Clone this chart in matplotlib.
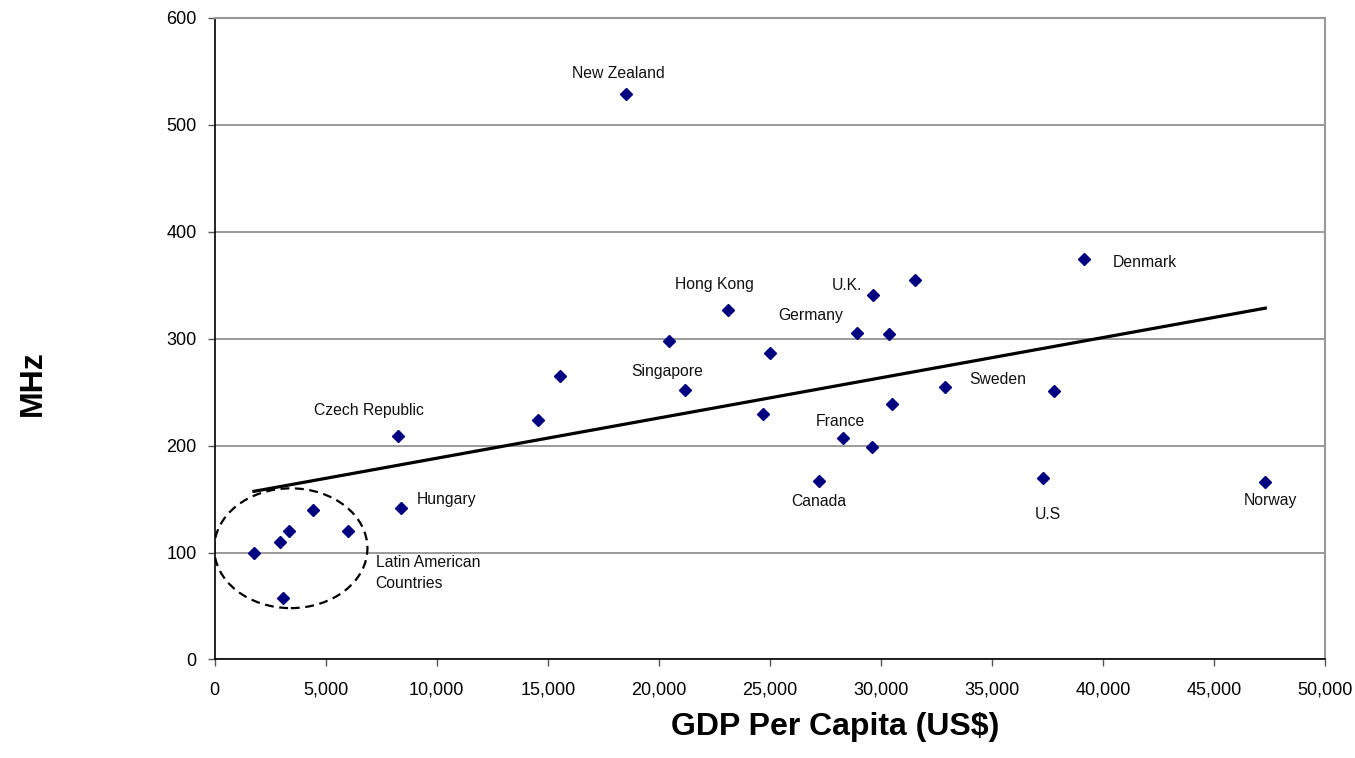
import numpy as np
import matplotlib.pyplot as plt
from matplotlib.patches import Ellipse

plt.rcParams['font.family'] = ['Liberation Sans', 'DejaVu Sans']

# GDP per capita (US$) and MHz per country
gdp = [1770, 2930, 3330, 3090, 4430, 6020, 8270, 8390, 14550, 15550,
       18510, 20470, 21190, 23120, 24680, 25010, 27200, 28280, 28930, 29650,
       29610, 30350, 30490, 31540, 32890, 37300, 37810, 39130, 47310]
mhz = [100, 110, 120, 57, 140, 120, 209, 142, 224, 265,
       529, 297.5, 252, 327, 229.5, 286.5, 167, 207, 305, 341,
       199, 304, 239, 355, 255, 170, 251, 374, 166]

# named points: (label, index into gdp/mhz)
labelled = ['Czech Republic', 'Hungary', 'New Zealand', 'Singapore', 'Hong Kong',
            'Canada', 'France', 'Germany', 'U.K.', 'Sweden', 'U.S', 'Denmark', 'Norway']
label_idx = [6, 7, 10, 12, 13, 16, 17, 18, 19, 24, 25, 27, 28]
# label offsets in data units from the point, plus alignment
label_dx = [-1300, 700, -350, -800, -600, 0, -100, -2100, -1200, 2350, 200, 1300, 250]
label_dy = [24, 8, 19, 17, 24, -19, 15.5, 17, 9, 7, -34, -3, -17]
label_ha = ['center', 'left', 'center', 'center', 'center', 'center', 'center',
            'center', 'center', 'center', 'center', 'left', 'center']

x = np.array(gdp, dtype=float)
y = np.array(mhz, dtype=float)

fig = plt.figure(figsize=(13.55, 7.58), dpi=100)
ax = fig.add_axes([0.1584, 0.13, 0.8195, 0.8466])

# linear trend over the data range
slope, icpt = np.polyfit(x, y, 1)
tx = np.array([x.min(), x.max()])
ax.plot(tx, slope * tx + icpt, color='black', lw=2.3, zorder=3)

ax.plot(x, y, linestyle='none', marker='D', markersize=6.5,
        color='#000080', zorder=4)

for name, i, dx, dy, ha in zip(labelled, label_idx, label_dx, label_dy, label_ha):
    ax.text(x[i] + dx, y[i] + dy, name, ha=ha, va='center', fontsize=11.3,
            color='#111111')

# Latin American group
ax.add_patch(Ellipse((3430, 104), 6900, 112, fill=False, ls=(0, (4, 2.5)),
                     lw=1.6, color='black', zorder=2))
ax.text(7250, 81, 'Latin American\nCountries', ha='left', va='center',
        fontsize=11.3, color='#111111', linespacing=1.55)

ax.set_xlim(0, 50000)
ax.set_ylim(0, 600)
ax.set_xticks(np.arange(0, 50001, 5000))
ax.set_xticklabels([f'{v:,}' for v in range(0, 50001, 5000)])
ax.set_yticks(np.arange(0, 601, 100))
ax.tick_params(labelsize=13, length=5, width=1, color='#555555')
ax.tick_params(axis='x', pad=11)
ax.tick_params(axis='y', pad=8)
ax.yaxis.grid(True, color='#7f7f7f', lw=1.1)
ax.set_axisbelow(True)

for s in ['left', 'bottom']:
    ax.spines[s].set_color('black')
    ax.spines[s].set_linewidth(1.2)
for s in ['right', 'top']:
    ax.spines[s].set_color('#999999')
    ax.spines[s].set_linewidth(1.5)

fig.text(0.6165, 0.021, 'GDP Per Capita (US$)', ha='center', va='bottom',
         fontsize=23, fontweight='bold')
fig.text(0.0245, 0.495, 'MHz', ha='center', va='center', rotation=90,
         fontsize=23, fontweight='bold')

fig.savefig('out.png', dpi=100)
